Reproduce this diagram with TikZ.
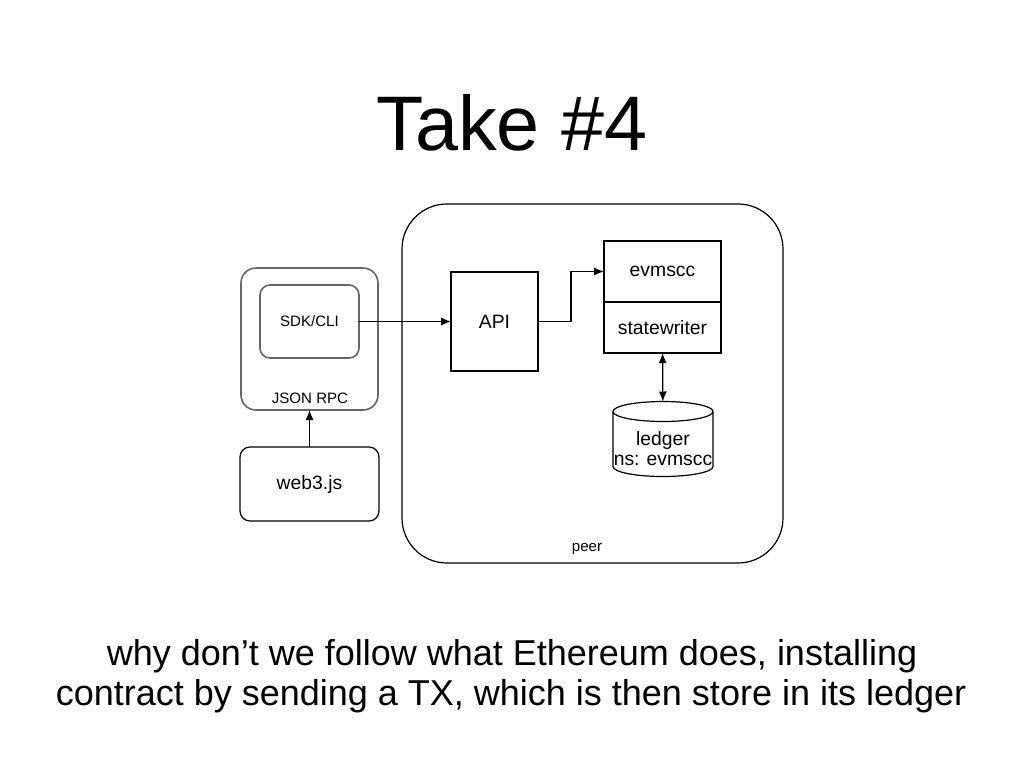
\documentclass[tikz,border=0pt]{standalone}
\usepackage{fontspec}
\setmainfont{Liberation Sans}
\usetikzlibrary{positioning, arrows.meta}

\begin{document}
\begin{tikzpicture}[x=0.75pt, y=-0.75pt, >={Latex[length=7.5pt,width=6pt]},
      line width=0.9pt, inner sep=0pt, outer sep=0pt,
      box/.style={rectangle, draw, font=\fontsize{14.5}{17}\selectfont},
      roundbox/.style={box, rounded corners=7.5pt},
      graybox/.style={rectangle, draw=black!60, line width=1.2pt},
      small/.style={font=\fontsize{11.3}{13}\selectfont}]
      \useasboundingbox (0,0) rectangle (1024,768);
      % title
      \node[anchor=base, font=\fontsize{58}{64}\selectfont] (title) at (512,150) {Take \#4};
      % peer
      \node[rectangle, draw, rounded corners=33.75pt, minimum width=285.75pt,
            minimum height=269.25pt] (peer) at (592.5,383.5) {};
      \node[small] (peerlabel) at (587,549) {peer};
      % client side
      \node[graybox, rounded corners=11.25pt, minimum width=102.75pt,
            minimum height=106.5pt] (jsonrpc) at (309.5,339) {};
      \node[small] (rpclabel) at (310,398) {JSON RPC};
      \node[graybox, rounded corners=7.5pt, minimum width=74.25pt,
            minimum height=54.75pt, small] (sdk) at (309.5,321.5) {SDK/CLI};
      \node[roundbox, minimum width=104.25pt, minimum height=55.5pt] (web3) at (309.5,484) {web3.js};
      \path[->] (web3) edge (jsonrpc);
      % inside peer
      \node[box, minimum width=65.25pt, minimum height=74.25pt] (api) at (494.5,321.5) {API};
      \path[->] (sdk.east) edge (sdk.east -| api.west);
      \node[box, minimum width=87.75pt, minimum height=45.75pt] (evmscc) at (662.5,271.5) {evmscc};
      \node[box, minimum width=87.75pt, minimum height=38.25pt, below=0pt of evmscc] (writer) {statewriter};
      \draw[->] (api.east) -- ++(33,0) |- (evmscc.west);
      % ledger
      \node[minimum width=75pt, minimum height=56.25pt] (ledger) at (663,439) {};
      \draw ([yshift=-7.5pt]ledger.north west) -- ([yshift=7.5pt]ledger.south west)
            arc[start angle=180, end angle=360, x radius=37.5pt, y radius=7.5pt]
            -- ([yshift=-7.5pt]ledger.north east)
            arc[start angle=0, end angle=360, x radius=37.5pt, y radius=7.5pt];
      \node[align=center, font=\fontsize{14.5}{15}\selectfont] (ledgertext) at (663,449) {ledger\\ns: evmscc};
      \path[<->] (writer) edge (ledger);
      % caption
      \node[anchor=base, font=\fontsize{27}{30}\selectfont] (line1) at (512,665)
            {why don’t we follow what Ethereum does, installing};
      \node[anchor=base, font=\fontsize{27}{30}\selectfont] (line2) at (511,705)
            {contract by sending a TX, which is then store in its ledger};
\end{tikzpicture}
\end{document}
